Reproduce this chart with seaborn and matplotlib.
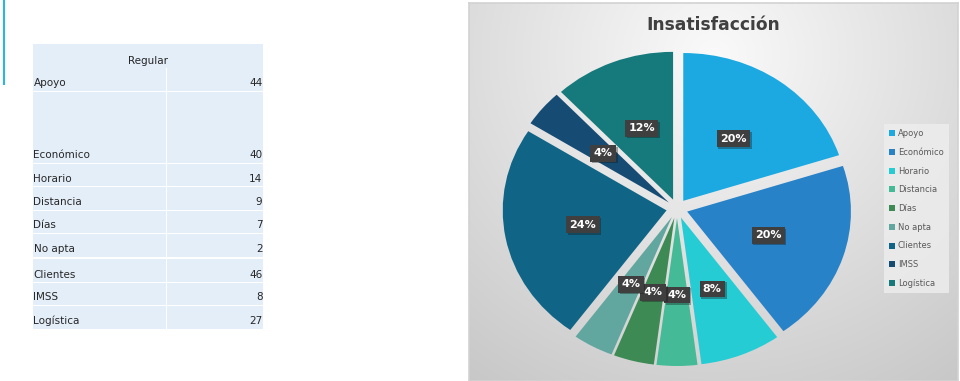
import numpy as np
import matplotlib
matplotlib.use("Agg")
import matplotlib.pyplot as plt
import matplotlib.patheffects as pe
from matplotlib.patches import Rectangle
import seaborn as sns

# ---------------- data ----------------
table_header = "Regular"
table_labels = ["Apoyo", "Económico", "Horario", "Distancia", "Días",
                "No apta", "Clientes", "IMSS", "Logística"]
table_values = [44, 40, 14, 9, 7, 2, 46, 8, 27]

chart_title = "Insatisfacción"
pie_categories = ["Apoyo", "Económico", "Horario", "Distancia", "Días",
                  "No apta", "Clientes", "IMSS", "Logística"]
pie_values = [20, 20, 8, 4, 4, 4, 24, 4, 12]
pie_colors = ["#1CA9E1", "#2882C8", "#26CCD4", "#44BB96", "#3D8A54",
              "#62A6A0", "#106587", "#164B73", "#167A7C"]

# ---------------- setup ----------------
sns.set_theme(style="white")
plt.rcParams["font.family"] = ["DejaVu Sans"]

W, H = 960, 381
fig = plt.figure(figsize=(9.6, 3.81), dpi=100)
fig.patch.set_facecolor("white")


def px_axes(x0, y0, x1, y1, **kw):
    return fig.add_axes([x0 / W, 1 - y1 / H, (x1 - x0) / W, (y1 - y0) / H], **kw)


# ---------------- chart background (gradient) ----------------
bx0, by0, bx1, by1 = 469, 3, 958, 381
ax_bg = px_axes(bx0, by0, bx1, by1, zorder=0)
xs = np.linspace(bx0, bx1, 300)
ys = np.linspace(by0, by1, 240)
X, Y = np.meshgrid(xs, ys)
d = np.sqrt((X - 714) ** 2 + ((Y - 55) * 1.05) ** 2)
v = np.clip(250 - 0.12 * d, 198, 250) / 255.0
ax_bg.imshow(np.dstack([v, v, v]), extent=[bx0, bx1, by1, by0], aspect="auto",
             interpolation="bilinear")
ax_bg.set_xticks([])
ax_bg.set_yticks([])
for s in ax_bg.spines.values():
    s.set_color("#d2d2d2")
    s.set_linewidth(1.2)

# ---------------- table + decorations ----------------
ax_t = fig.add_axes([0, 0, 1, 1], zorder=1)
ax_t.set_xlim(0, W)
ax_t.set_ylim(H, 0)
ax_t.axis("off")

ax_t.plot([4, 4], [0, 85], color="#2BB5E6", lw=1.5, solid_capstyle="butt")

tl, tr, tdiv = 32.5, 263, 166
header_box = (44, 67.5)
row_boxes = [(68, 91), (92, 163), (164, 186), (187, 209.5), (211, 233),
             (234, 257), (258.5, 282), (283, 305), (306, 329)]
cell_bg = "#E4EEF9"
ax_t.add_patch(Rectangle((tl, header_box[0]), tr - tl, header_box[1] - header_box[0],
                         fc=cell_bg, ec="none"))
ax_t.text((tl + tr) / 2, header_box[1] - 1.5, table_header, ha="center", va="bottom",
          fontsize=7.5, color="#262626")
for (y0, y1), lab, val in zip(row_boxes, table_labels, table_values):
    ax_t.add_patch(Rectangle((tl, y0), tdiv - tl - 0.5, y1 - y0, fc=cell_bg, ec="none"))
    ax_t.add_patch(Rectangle((tdiv + 0.5, y0), tr - tdiv - 0.5, y1 - y0, fc=cell_bg, ec="none"))
    ax_t.text(tl + 1, y1 - 2.5, lab, ha="left", va="bottom", fontsize=7.5, color="#262626")
    ax_t.text(tr - 0.5, y1 - 2.5, str(val), ha="right", va="bottom", fontsize=7.5,
              color="#262626")

# title
ax_t.text(713, 25, chart_title, ha="center", va="center", fontsize=12.3,
          fontweight="bold", color="#404040")

# ---------------- pie ----------------
ax_p = fig.add_axes([0, 0, 1, 1], zorder=2)
wedges, texts, autotexts = ax_p.pie(
    pie_values, colors=pie_colors, startangle=90, counterclock=False,
    explode=[0.065] * len(pie_values),
    autopct=lambda p: f"{p:.0f}%", pctdistance=0.52,
    wedgeprops=dict(linewidth=0),
    textprops=dict(color="white", fontsize=8, fontweight="bold"))
for t in autotexts:
    t.set_bbox(dict(boxstyle="square,pad=0.3", fc="#3F3F3F", ec="none"))
    t.get_bbox_patch().set_path_effects(
        [pe.SimplePatchShadow(offset=(1.2, -1.2), alpha=0.35), pe.Normal()])

cx, cy, rx, ry = 677, 208.6, 163.8, 147.8
ax_p.set_aspect("auto")
ax_p.set_xlim(-cx / rx, (W - cx) / rx)
ax_p.set_ylim((cy - H) / ry, cy / ry)
ax_p.axis("off")

# ---------------- legend ----------------
leg = fig.legend(wedges, pie_categories, loc="upper left",
                 bbox_to_anchor=(884 / W, 1 - 124 / H), frameon=True,
                 fontsize=6, handlelength=0.7, handleheight=0.7,
                 handletextpad=0.35, labelspacing=1.17, borderpad=0.6,
                 borderaxespad=0, fancybox=False)
leg.get_frame().set_facecolor("#eeeeee")
leg.get_frame().set_edgecolor("none")
leg.get_frame().set_alpha(0.8)
leg.set_zorder(3)
for t in leg.get_texts():
    t.set_color("#595959")

fig.savefig("out.png", dpi=100)
